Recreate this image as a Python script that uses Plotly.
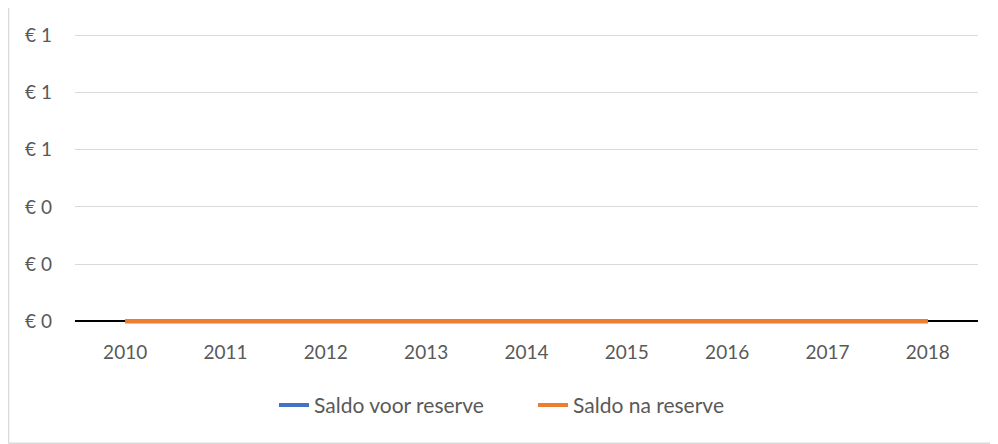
import plotly.graph_objects as go

years = ["2010", "2011", "2012", "2013", "2014", "2015", "2016", "2017", "2018"]
saldo_voor = [0, 0, 0, 0, 0, 0, 0, 0, 0]
saldo_na = [0, 0, 0, 0, 0, 0, 0, 0, 0]
y_tickvals = [0, 0.2, 0.4, 0.6, 0.8, 1.0]
y_ticktext = ["€ 0", "€ 0", "€ 0", "€ 1", "€ 1", "€ 1"]

fig = go.Figure()
fig.add_trace(go.Scatter(x=years, y=saldo_voor, mode="lines", name="Saldo voor reserve",
                         line=dict(color="#4472C4", width=4)))
fig.add_trace(go.Scatter(x=years, y=saldo_na, mode="lines", name="Saldo na reserve",
                         line=dict(color="#ED7D31", width=4)))

OFF = 8  # page body margin
W, H = 998 - OFF, 444 - OFF
# reference pixel positions of plot area (page coords)
ref_left, ref_right = 75, 978
y0_ref, y1_ref = 321, 35          # pixel of value 0 and value 1
ppu = y0_ref - y1_ref
rmin, rmax = -0.02, 1.005
ref_bottom = y0_ref - rmin * ppu
ref_top = y1_ref - (rmax - 1) * ppu
L = ref_left - OFF
R = W - (ref_right - OFF)
T = ref_top - OFF
B = H - (ref_bottom - OFF)
pw = W - L - R
ph = H - T - B

def px_x(p):
    return (p - OFF - L) / pw

def px_y(p):
    return (H - B - (p - OFF)) / ph

fig.update_layout(
    width=W, height=H,
    margin=dict(l=L, r=R, t=T, b=B),
    paper_bgcolor="white", plot_bgcolor="white",
    font=dict(family="Lato, Open Sans, sans-serif", size=19, color="#595959"),
    showlegend=True,
    legend=dict(orientation="h", x=px_x(274), xanchor="left", y=px_y(405), yanchor="middle",
                font=dict(size=21, color="#595959"), itemwidth=30, tracegroupgap=0,
                entrywidth=214, entrywidthmode="pixels"),
    xaxis=dict(type="category", showgrid=False, showline=False,
               ticks="", tickfont=dict(size=19, color="#595959"), range=[-0.5, 8.5],
               ticklabelstandoff=12),
    yaxis=dict(range=[rmin, rmax], tickvals=y_tickvals, ticktext=y_ticktext, showgrid=True,
               gridcolor="#D9D9D9", gridwidth=1, zeroline=True, zerolinecolor="black",
               zerolinewidth=1.5, showline=False,
               tickfont=dict(size=19, color="#595959"), ticklabelstandoff=22),
    shapes=[
        dict(type="line", xref="paper", yref="paper", x0=px_x(8.5), x1=px_x(8.5), y0=px_y(443), y1=px_y(0),
             line=dict(color="#D9D9D9", width=1.5)),
        dict(type="line", xref="paper", yref="paper", x0=px_x(8.5), x1=px_x(998), y0=px_y(443), y1=px_y(443),
             line=dict(color="#D9D9D9", width=1.5)),
    ],
)

fig.write_html("out.html")
